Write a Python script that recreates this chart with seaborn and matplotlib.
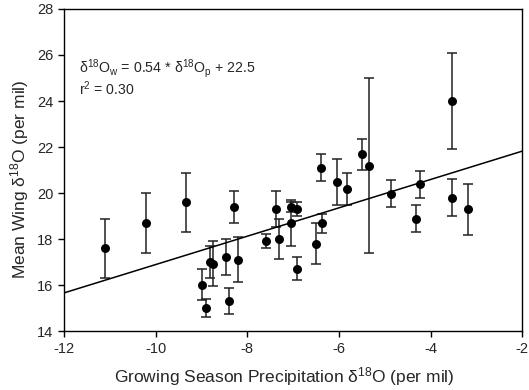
import matplotlib
matplotlib.use("Agg")
import matplotlib.pyplot as plt
import seaborn as sns
import pandas as pd

# values
precip_d18o = [-11.11, -10.21, -9.34, -8.98, -8.91, -8.81, -8.74, -8.47, -8.40, -8.28,
               -8.21, -7.58, -7.38, -7.31, -7.05, -6.92, -7.05, -6.91, -6.49, -6.36,
               -6.39, -6.04, -5.82, -5.49, -5.34, -4.87, -4.22, -4.32, -3.53, -3.18, -3.53]
wing_d18o = [17.60, 18.70, 19.59, 16.02, 15.01, 17.00, 16.92, 17.21, 15.31, 19.40,
             17.10, 17.90, 19.30, 18.00, 19.40, 19.30, 18.68, 16.70, 17.80, 18.68,
             21.10, 20.48, 20.17, 21.68, 21.19, 19.98, 20.38, 18.88, 19.80, 19.29, 24.00]
wing_err = [1.29, 1.30, 1.29, 0.68, 0.40, 0.70, 0.98, 0.79, 0.57, 0.68,
            0.98, 0.30, 0.77, 0.88, 0.22, 0.30, 1.00, 0.50, 0.88, 0.41,
            0.59, 0.98, 0.70, 0.69, 3.80, 0.60, 0.60, 0.59, 0.80, 1.10, 2.10]

# regression line as drawn in the figure
fit_x = [-12, -2]
fit_y = [15.66, 21.82]

df = pd.DataFrame({"precip": precip_d18o, "wing": wing_d18o, "err": wing_err})
fit = pd.DataFrame({"x": fit_x, "y": fit_y})

sns.set_style("ticks")
plt.rcParams["font.family"] = ["Liberation Sans", "DejaVu Sans"]
plt.rcParams["mathtext.fontset"] = "custom"
plt.rcParams["mathtext.rm"] = "Liberation Sans"
plt.rcParams["mathtext.it"] = "Liberation Sans:italic"
plt.rcParams["mathtext.default"] = "regular"
plt.rcParams["axes.unicode_minus"] = False

fig = plt.figure(figsize=(5.29, 3.90), dpi=100)
ax = fig.add_axes([0.121, 0.151, 0.866, 0.826])

ax.errorbar(df["precip"], df["wing"], yerr=df["err"], fmt="none",
            ecolor="#222222", elinewidth=1.1, capsize=3.5, capthick=1.1, zorder=2)
sns.lineplot(data=fit, x="x", y="y", color="black", linewidth=1.1, ax=ax, zorder=3)
sns.scatterplot(data=df, x="precip", y="wing", color="black", s=42,
                edgecolor="black", linewidth=0, ax=ax, zorder=4)

ax.set_xlim(-12, -2)
ax.set_ylim(14, 28)
ax.set_xticks(range(-12, -1, 2))
ax.set_yticks(range(14, 29, 2))
ax.tick_params(labelsize=10.5, length=4, width=1, color="black", direction="out")
for s in ax.spines.values():
    s.set_color("black")
    s.set_linewidth(1)

ax.set_xlabel(r"Growing Season Precipitation $\delta^{18}$O (per mil)", fontsize=12.5)
ax.set_ylabel(r"Mean Wing $\delta^{18}$O (per mil)", fontsize=12.5)
ax.xaxis.set_label_coords(0.48, -0.105)
ax.yaxis.set_label_coords(-0.072, 0.47)

ax.text(-11.68, 25.39, r"$\delta^{18}O_w$ = 0.54 * $\delta^{18}O_p$ + 22.5", fontsize=10.2, va="center")
ax.text(-11.68, 24.55, r"r$^2$ = 0.30", fontsize=10.2, va="center")

fig.savefig("out.png", dpi=100)
